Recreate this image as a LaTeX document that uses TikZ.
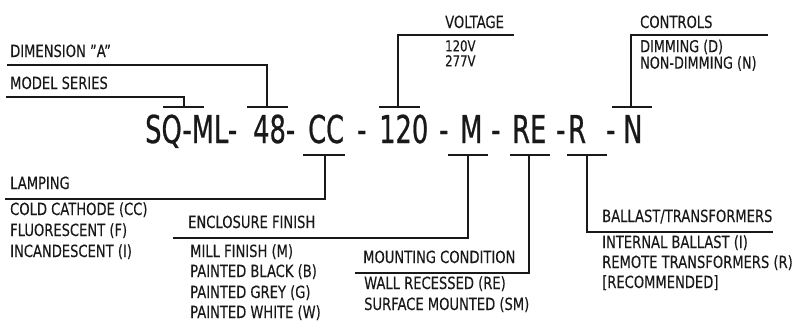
\documentclass[tikz,border=0pt]{standalone}
\usepackage{fontspec}
\setmainfont{DejaVu Sans}[FakeStretch=0.78,FakeBold=0.25]
\newfontfamily\bigf{DejaVu Sans}[FakeStretch=0.67,FakeBold=0.6]
\definecolor{ink}{gray}{0.1}
\begin{document}
\begin{tikzpicture}[x=1pt,y=-1pt,
  lab/.style={anchor=base west, inner sep=0pt, font=\fontsize{16.8}{18}\selectfont, text=ink},
  duo/.style={anchor=north west, inner sep=0pt, align=left, text=ink},
  big/.style={anchor=base west, inner sep=0pt, font=\bigf\fontsize{38.4}{40}\selectfont, text=ink},
  ln/.style={draw=ink, line width=1.1pt},
  thk/.style={draw=ink, line width=1.7pt}]
\useasboundingbox (0,0) rectangle (803,325);
% code string
\node[big] (s1) at (145,143) {SQ-ML-};
\node[big] (s2) at (253,143) {48-};
\node[big] (s3) at (308,143) {CC};
\node[big] (s4) at (357,143) {-};
\node[big] (s5) at (379,143) {120};
\node[big] (s6) at (439,143) {-};
\node[big] (s7) at (460,143) {M};
\node[big] (s8) at (491,143) {-};
\node[big] (s9) at (512,143) {RE};
\node[big] (s10) at (556,143) {-};
\node[big] (s11) at (568,143) {R};
\node[big] (s12) at (606,143) {-};
\node[big] (s13) at (623,143) {N};
% labels
\node[lab] (dim) at (10,57) {DIMENSION "A"};
\node[lab] (mod) at (10,89) {MODEL SERIES};
\node[lab] (vol) at (445,28) {VOLTAGE};
\node[duo, font=\fontsize{15}{15}\selectfont] (vv) at (445,40) {120V\\277V};
\node[lab] (con) at (640,28) {CONTROLS};
\node[duo, font=\fontsize{16.4}{16.5}\selectfont] (cc) at (640,39.5) {DIMMING (D)\\NON-DIMMING (N)};
\node[lab] (lam) at (10,189) {LAMPING};
\node[lab] (l1) at (10,215) {COLD CATHODE (CC)};
\node[lab] (l2) at (10,236) {FLUORESCENT (F)};
\node[lab] (l3) at (10,257) {INCANDESCENT (I)};
\node[lab] (enc) at (188,228) {ENCLOSURE FINISH};
\node[lab] (e1) at (190,257) {MILL FINISH (M)};
\node[lab] (e2) at (190,277) {PAINTED BLACK (B)};
\node[lab] (e3) at (190,298) {PAINTED GREY (G)};
\node[lab] (e4) at (190,318) {PAINTED WHITE (W)};
\node[lab] (mou) at (363,263) {MOUNTING CONDITION};
\node[lab] (m1) at (364,289) {WALL RECESSED (RE)};
\node[lab] (m2) at (364,310) {SURFACE MOUNTED (SM)};
\node[lab] (bal) at (602,222) {BALLAST/TRANSFORMERS};
\node[lab] (b1) at (602,248) {INTERNAL BALLAST (I)};
\node[lab] (b2) at (602,268) {REMOTE TRANSFORMERS (R)};
\node[lab] (b3) at (602,288) {[RECOMMENDED]};
% connector points
\coordinate (mdL) at (163,107); \coordinate (mdR) at (204,107);
\coordinate (mdT) at (184,107); \coordinate (mdE) at (6,97);
\coordinate (dmL) at (247,107); \coordinate (dmR) at (288,107);
\coordinate (dmT) at (267,107); \coordinate (dmE) at (7,65);
\coordinate (vtL) at (379,107); \coordinate (vtR) at (420,107);
\coordinate (vtT) at (398,107); \coordinate (vtE) at (514,35);
\coordinate (ctL) at (612,107); \coordinate (ctR) at (652,107);
\coordinate (ctT) at (631,107); \coordinate (ctE) at (768,35);
\coordinate (ccL) at (303,155); \coordinate (ccR) at (345,155);
\coordinate (ccT) at (325,155); \coordinate (ccE) at (5,199);
\coordinate (efL) at (448,155); \coordinate (efR) at (488,155);
\coordinate (efT) at (468,155); \coordinate (efE) at (173,238);
\coordinate (reL) at (510,155); \coordinate (reR) at (550,155);
\coordinate (reT) at (529,155); \coordinate (reE) at (355,273);
\coordinate (rtL) at (567,155); \coordinate (rtR) at (607,155);
\coordinate (rtT) at (587,155); \coordinate (rtE) at (773,232);
% connectors
\draw[ln] (mdL) -- (mdR); \draw[thk] (mdT) |- (mdE);
\draw[ln] (dmL) -- (dmR); \draw[ln] (dmT) |- (dmE);
\draw[ln] (vtL) -- (vtR); \draw[ln] (vtT) |- (vtE);
\draw[ln] (ctL) -- (ctR); \draw[ln] (ctT) |- (ctE);
\draw[ln] (ccL) -- (ccR); \draw[ln] (ccT) |- (ccE);
\draw[ln] (efL) -- (efR); \draw[ln] (efT) |- (efE);
\draw[ln] (reL) -- (reR); \draw[ln] (reT) |- (reE);
\draw[ln] (rtL) -- (rtR); \draw[ln] (rtT) |- (rtE);
\end{tikzpicture}
\end{document}
